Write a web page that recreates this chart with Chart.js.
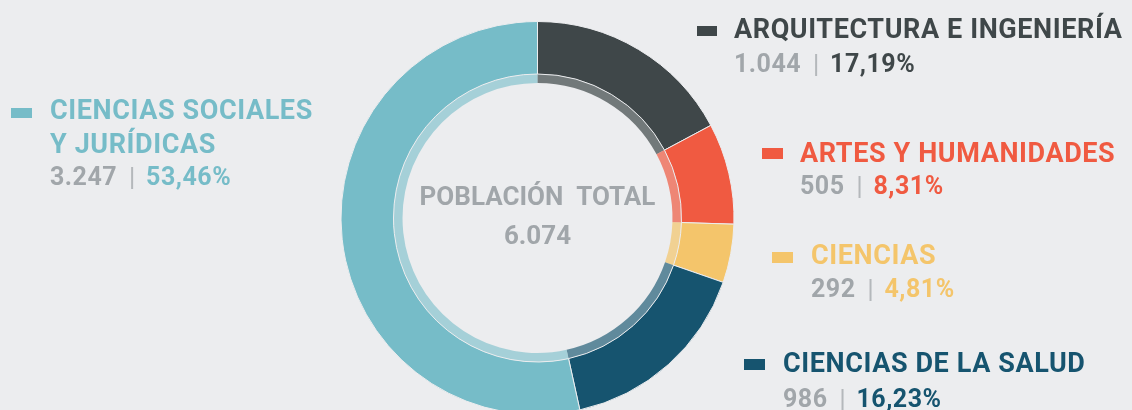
<!DOCTYPE html>
<html>
<head>
<meta charset="utf-8">
<script src="https://cdn.jsdelivr.net/npm/chart.js@4.4.1/dist/chart.umd.min.js"></script>
<style>
  html, body { margin: 0; padding: 0; background: #ecedef; }
  #wrap { width: 1132px; height: 410px; }
</style>
</head>
<body>
<div id="wrap"><canvas id="chart" width="1132" height="410"></canvas></div>
<script>
// Datos de la población por rama de conocimiento
const labels = [
    ["ARQUITECTURA E INGENIERÍA"],
    ["ARTES Y HUMANIDADES"],
    ["CIENCIAS"],
    ["CIENCIAS DE LA SALUD"],
    ["CIENCIAS SOCIALES", "Y JURÍDICAS"]
];
const values = [1044, 505, 292, 986, 3247];
const valueLabels = ["1.044", "505", "292", "986", "3.247"];
const percentLabels = ["17,19%", "8,31%", "4,81%", "16,23%", "53,46%"];
const centerTitle = "POBLACIÓN  TOTAL";
const totalLabel = "6.074";

const colors = ["#3f4749", "#f05a41", "#f4c56b", "#16546f", "#76bcc8"];
const innerColors = ["rgba(63,71,73,0.7)", "rgba(240,90,65,0.7)", "rgba(244,197,107,0.7)", "rgba(22,84,111,0.65)", "rgba(118,188,200,0.6)"];
const grey = "#a1a6aa";
const bg = "#ecedef";
const font = "Roboto";

// posiciones de la leyenda (cuadro, texto, segunda línea)
const legendLayout = [
    { box: [697, 26, 20, 10], x: 734, y: 38, valueY: 72 },
    { box: [762, 148, 21, 11], x: 800, y: 162, valueY: 194 },
    { box: [772, 252, 21, 11], x: 811, y: 264, valueY: 297 },
    { box: [744, 359, 21, 11], x: 783, y: 372, valueY: 407 },
    { box: [11, 108, 21, 10], x: 50, y: 119, valueY: 185 }
];

const textPlugin = {
    id: "textPlugin",
    beforeDraw(chart) {
        const c = chart.ctx;
        c.save();
        c.fillStyle = bg;
        c.fillRect(0, 0, chart.width, chart.height);
        c.restore();
    },
    afterDraw(chart) {
        const c = chart.ctx;
        c.save();
        c.textBaseline = "alphabetic";

        // texto central
        const meta = chart.getDatasetMeta(0).data[0];
        const cx = meta.x;
        c.textAlign = "center";
        c.fillStyle = grey;
        c.font = "700 26px " + font;
        c.fillText(centerTitle, cx, 205);
        c.fillText(totalLabel, cx, 244);

        // leyenda
        c.textAlign = "left";
        labels.forEach((lines, i) => {
            const L = legendLayout[i];
            c.fillStyle = colors[i];
            c.fillRect(L.box[0], L.box[1], L.box[2], L.box[3]);
            c.font = "700 27px " + font;
            c.letterSpacing = "0.6px";
            lines.forEach((line, k) => {
                c.fillText(line, L.x, L.y + k * 34);
            });
            // segunda línea: valor | porcentaje
            let x = L.x;
            c.font = "700 25px " + font;
            c.letterSpacing = "0.5px";
            c.fillStyle = grey;
            c.fillText(valueLabels[i], x, L.valueY);
            x += c.measureText(valueLabels[i]).width + 14;
            c.fillStyle = "#b4b8bb";
            c.fillRect(x, L.valueY - 18, 2, 22);
            x += 15;
            c.fillStyle = colors[i];
            c.fillText(percentLabels[i], x, L.valueY);
        });
        c.restore();
    }
};

const ctx = document.getElementById("chart").getContext("2d");
const chart = new Chart(ctx, {
    type: "doughnut",
    data: {
        labels: labels,
        datasets: [
            {
                data: values,
                backgroundColor: colors,
                borderColor: bg,
                borderWidth: 1,
                weight: 52.5
            },
            {
                data: values,
                backgroundColor: innerColors,
                borderWidth: 0,
                weight: 9
            }
        ]
    },
    options: {
        responsive: false,
        animation: false,
        radius: 196.5,
        cutout: "68.7%",
        layout: { padding: { left: 0, right: 57, top: 26, bottom: 0 } },
        plugins: {
            legend: { display: false },
            tooltip: { enabled: false }
        }
    },
    plugins: [textPlugin]
});
</script>
</body>
</html>
